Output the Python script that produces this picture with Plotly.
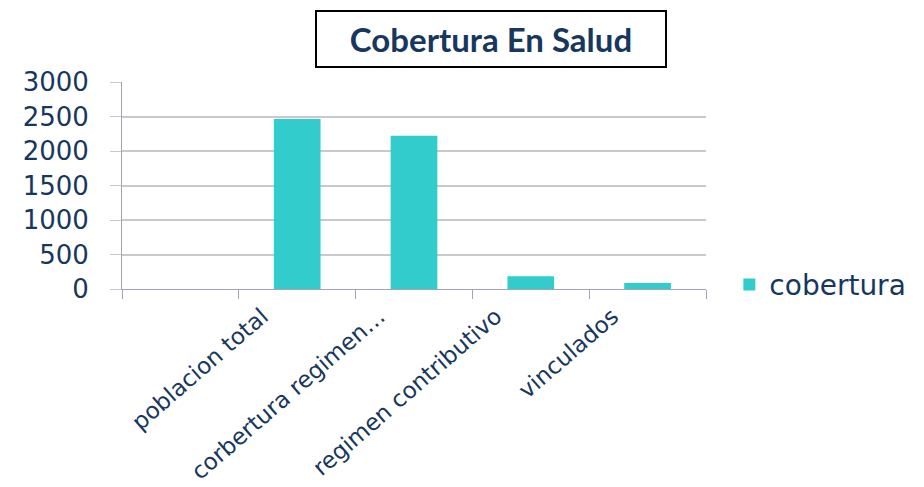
import plotly.graph_objects as go

categories = [" ", "poblacion total", "corbertura regimen…", "regimen contributivo", "vinculados"]
cobertura = [None, 2463, 2220, 185, 87]
y_ticks = [0, 500, 1000, 1500, 2000, 2500, 3000]

navy = "#17375E"
grid = "#C8C8D0"
axis = "#A0A4B4"

fig = go.Figure()
fig.add_trace(go.Bar(
    x=categories, y=cobertura, name="cobertura",
    marker=dict(color="#33CCCC", line=dict(width=0)),
))

fig.update_layout(
    width=924, height=487,
    margin=dict(l=114, r=226, t=74, b=206, autoexpand=False),
    paper_bgcolor="white", plot_bgcolor="white",
    bargap=0.6,
    showlegend=True,
    legend=dict(x=1.04, y=0.02, xanchor="left", yanchor="middle",
                font=dict(family="DejaVu Sans", size=28, color=navy),
                bgcolor="rgba(0,0,0,0)"),
    annotations=[dict(
        text="<b>Cobertura En Salud</b>", xref="paper", yref="paper",
        x=0.632, y=1.208, xanchor="center", yanchor="middle",
        showarrow=False, font=dict(family="Lato", size=33, color=navy),
        bordercolor="black", borderwidth=2, width=346, height=52,
        bgcolor="white",
    )],
)
fig.update_xaxes(
    type="category", categoryorder="array", categoryarray=categories,
    range=[-0.5, 4.5], tickson="boundaries", ticks="outside", ticklen=9,
    tickcolor=axis, showline=True, linecolor=axis, linewidth=1,
    showgrid=False, tickangle=-41, ticklabelstandoff=4, ticklabelshift=-35,
    automargin=False,
    tickfont=dict(family="DejaVu Sans", size=23, color=navy),
)
fig.update_yaxes(
    range=[0, 3000], tickvals=y_ticks, ticks="outside", ticklen=11,
    tickcolor=grid, showline=True, linecolor=axis, linewidth=1,
    gridcolor=grid, gridwidth=1.5, zeroline=False, ticklabelstandoff=16,
    automargin=False,
    tickfont=dict(family="DejaVu Sans", size=26, color=navy),
)
fig.write_html("out.html")
